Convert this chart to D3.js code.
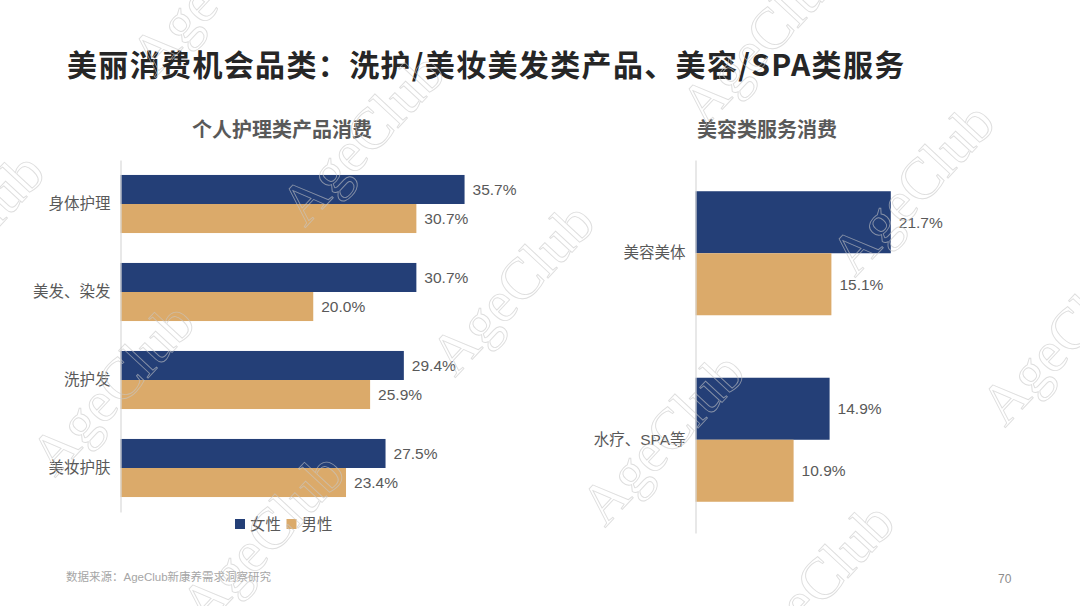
<!DOCTYPE html>
<html>
<head>
<meta charset="utf-8">
<script src="https://cdn.jsdelivr.net/npm/d3@7"></script>
<style>
  html, body { margin: 0; padding: 0; background: #fff; }
  svg { display: block; font-family: "Liberation Sans", "Noto Sans CJK SC", sans-serif; }
</style>
</head>
<body>
<svg id="chart" width="1080" height="606"></svg>
<script>
// data
const series = ["女性", "男性"];
const leftCats = ["身体护理", "美发、染发", "洗护发", "美妆护肤"];
const leftFemale = [35.7, 30.7, 29.4, 27.5];
const leftMale = [30.7, 20.0, 25.9, 23.4];
const rightCats = ["美容美体", "水疗、SPA等"];
const rightFemale = [21.7, 14.9];
const rightMale = [15.1, 10.9];

const colors = { "女性": "#243f77", "男性": "#dbaa6a" };
const textGray = "#595959";

const svg = d3.select("#chart");

// main title
svg.append("text")
  .attr("x", 67)
  .attr("y", 76)
  .style("font-family", "'Noto Sans CJK SC', sans-serif")
  .style("font-size", "30px")
  .style("font-weight", "bold")
  .style("letter-spacing", "1.35px")
  .style("fill", "#262626")
  .text("美丽消费机会品类：洗护/美妆美发类产品、美容/SPA类服务");

function drawPanel(opts) {
  const { cats, female, male, x0, x1, y0, y1, pad, title, titleX } = opts;

  const x = d3.scaleLinear().domain([0, 40]).range([x0, x1]);
  const y = d3.scaleBand().domain(cats).range([y0, y1])
    .paddingInner(pad).paddingOuter(pad / 2);
  const ySub = d3.scaleBand().domain(series).range([0, y.bandwidth()]);

  const rows = cats.map((c, i) => ({ cat: c, vals: [
    { key: "女性", v: female[i] },
    { key: "男性", v: male[i] }
  ]}));

  svg.append("text")
    .attr("x", titleX)
    .attr("y", 137)
    .attr("text-anchor", "middle")
    .style("font-family", "'Noto Sans CJK SC', sans-serif")
    .style("font-size", "20px")
    .style("font-weight", "bold")
    .style("fill", textGray)
    .text(title);

  const g = svg.append("g");

  const grp = g.selectAll("g.row")
    .data(rows)
    .join("g")
    .attr("class", "row")
    .attr("transform", d => `translate(0,${y(d.cat)})`);

  grp.selectAll("rect")
    .data(d => d.vals)
    .join("rect")
    .attr("x", x(0))
    .attr("y", d => ySub(d.key))
    .attr("width", d => x(d.v) - x(0))
    .attr("height", ySub.bandwidth())
    .attr("fill", d => colors[d.key]);

  grp.selectAll("text.val")
    .data(d => d.vals)
    .join("text")
    .attr("class", "val")
    .attr("x", d => x(d.v) + 8)
    .attr("y", d => ySub(d.key) + ySub.bandwidth() / 2)
    .attr("dy", "0.36em")
    .style("font-size", "15.5px")
    .style("fill", textGray)
    .text(d => d.v.toFixed(1) + "%");

  // category axis
  const axis = g.append("g")
    .attr("transform", `translate(${x(0)},0)`)
    .call(d3.axisLeft(y).tickSize(0).tickPadding(10));
  axis.select(".domain").attr("stroke", "#d9d9d9").attr("stroke-width", 1.2);
  axis.selectAll(".tick text")
    .style("font-family", "'Liberation Sans', 'Noto Sans CJK SC', sans-serif")
    .style("font-size", "15.5px")
    .style("fill", textGray);
}

drawPanel({
  cats: leftCats, female: leftFemale, male: leftMale,
  x0: 120.5, x1: 506, y0: 160, y1: 512, pad: 0.34,
  title: "个人护理类产品消费", titleX: 282
});

drawPanel({
  cats: rightCats, female: rightFemale, male: rightMale,
  x0: 695.5, x1: 1055.5, y0: 160, y1: 533, pad: 0.335,
  title: "美容类服务消费", titleX: 767
});

// legend
const legend = svg.append("g").attr("transform", "translate(235,524)");
const li = legend.selectAll("g")
  .data(series)
  .join("g")
  .attr("transform", (d, i) => `translate(${i * 51.5},0)`);
li.append("rect")
  .attr("x", 0).attr("y", -5)
  .attr("width", 10).attr("height", 10)
  .attr("fill", d => colors[d]);
li.append("text")
  .attr("x", 15).attr("y", 0).attr("dy", "0.36em")
  .style("font-size", "15.5px")
  .style("fill", textGray)
  .text(d => d);

// footer
svg.append("text")
  .attr("x", 66).attr("y", 581)
  .style("font-size", "11.5px")
  .style("fill", "#a6a6a6")
  .text("数据来源：AgeClub新康养需求洞察研究");
svg.append("text")
  .attr("x", 998).attr("y", 583)
  .style("font-size", "12px")
  .style("fill", "#8c8c8c")
  .text("70");

// watermark lattice
const wmO = [305, 228], wmA = [250, -250], wmB = [150, 150];
const wmPts = [];
for (let i = -2; i <= 3; i++) {
  for (let j = -2; j <= 4; j++) {
    const px = wmO[0] + i * wmA[0] + j * wmB[0];
    const py = wmO[1] + i * wmA[1] + j * wmB[1];
    if (px > -250 && px < 1100 && py > -20 && py < 850) wmPts.push([px, py]);
  }
}
svg.append("g")
  .style("pointer-events", "none")
  .selectAll("text")
  .data(wmPts)
  .join("text")
  .attr("transform", d => `translate(${d[0]},${d[1]}) rotate(-47)`)
  .style("font-family", "'Liberation Serif', serif")
  .style("font-size", "58px")
  .style("fill", "none")
  .style("stroke", "#c8c8c8")
  .style("stroke-width", 0.9)
  .style("opacity", 0.6)
  .text("AgeClub");
</script>
</body>
</html>
